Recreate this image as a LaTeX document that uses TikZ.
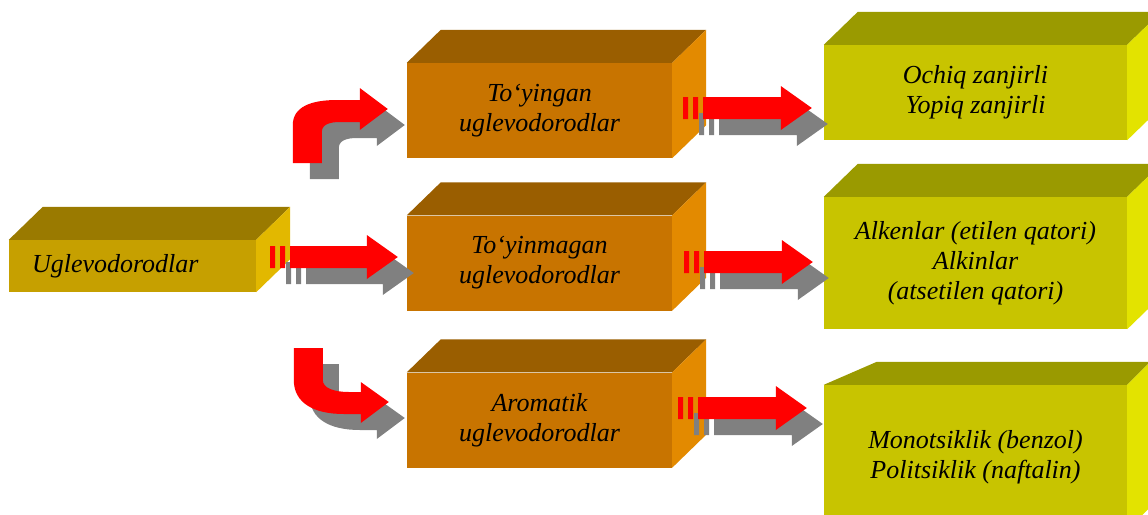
\documentclass[tikz,border=0pt]{standalone}
\usepackage{fontspec}
\setmainfont{Liberation Serif}
\usetikzlibrary{calc}
\definecolor{goldfront}{HTML}{C6A000}
\definecolor{goldtop}{HTML}{9A7A00}
\definecolor{goldside}{HTML}{E2B800}
\definecolor{orangefront}{HTML}{C87400}
\definecolor{orangetop}{HTML}{9A5E00}
\definecolor{orangeside}{HTML}{E38A00}
\definecolor{olivefront}{HTML}{C8C400}
\definecolor{olivetop}{HTML}{9A9A00}
\definecolor{oliveside}{HTML}{E3E300}
\definecolor{shadowgray}{HTML}{808080}

% top and side of a box: node, depth x, depth y, colour prefix
\newcommand{\depthfaces}[4]{%
  \fill[#4top] (#1.north west) -- ++(#2,-#3) -- ($(#1.north east)+(#2,-#3)$)
    -- (#1.north east) -- cycle;
  \fill[#4side] (#1.north east) -- ++(#2,-#3) -- ($(#1.south east)+(#2,-#3)$)
    -- (#1.south east) -- cycle;}

% striped block arrow: start, tip, colour, offset
\newcommand{\fatarrow}[4]{%
  \fill[#3] let \p1=($(#1)+(#4)$), \p2=($(#2)+(#4)$) in
    ($(\x1,\y1)+(0,-11)$) rectangle ++(5,22)
    ($(\x1,\y1)+(10,-11)$) rectangle ++(5,22)
    ($(\x1,\y1)+(20,-11)$) -- ($(\x2,\y1)+(-31,-11)$) -- ($(\x2,\y1)+(-31,-22)$)
    -- (\x2,\y1) -- ($(\x2,\y1)+(-31,22)$) -- ($(\x2,\y1)+(-31,11)$)
    -- ($(\x1,\y1)+(20,11)$) -- cycle;}

% bent arrows, drawn from the foot of the shaft
\newcommand{\bentup}[1]{%
  \fill[#1] (0,0) -- (0,-38) .. controls (0,-56) and (18,-63) .. (44,-63)
    -- (67,-63) -- (67,-75) -- (95,-54) -- (67,-33) -- (67,-41) -- (47,-41)
    .. controls (36,-41) and (29,-38) .. (29,-31) -- (29,0) -- cycle;}
\newcommand{\bentdown}[1]{%
  \fill[#1] (0,0) -- (29,0) -- (29,32) .. controls (29,40) and (40,44) .. (55,44)
    -- (67,44) -- (67,34) -- (95,54) -- (67,75) -- (67,66) -- (50,66)
    .. controls (20,66) and (0,55) .. (0,32) -- cycle;}

\begin{document}
\begin{tikzpicture}[x=1pt, y=-1pt,
    face/.style={rectangle, inner sep=0pt, align=center,
        font=\fontsize{26}{30}\selectfont\itshape},
    goldbox/.style={face, fill=goldfront, minimum width=247, minimum height=52},
    orangebox/.style={face, fill=orangefront, minimum width=265, minimum height=95},
    olivebox/.style={face, fill=olivefront, minimum width=303}
]
\useasboundingbox (0,0) rectangle (1148,514);
\clip (0,0) rectangle (1148,514);

% Left box
\node[goldbox, inner xsep=23, text width=201, align=left] (U) at (132.5,266) {Uglevodorodlar};
\depthfaces{U}{34}{33}{gold}

% Middle column
\node[orangebox] (T1) at (539.5,110.5) {To‘yingan\\uglevodorodlar};
\node[orangebox] (T2) at (539.5,263) {To‘yinmagan\\uglevodorodlar};
\node[orangebox] (T3) at (539.5,420) {Aromatik\\uglevodorodlar};
\depthfaces{T1}{34}{33}{orange}
\depthfaces{T2}{34}{33}{orange}
\depthfaces{T3}{34}{33}{orange}

% Right column
\node[olivebox, minimum height=95] (R1) at (975.5,92.5) {Ochiq zanjirli\\Yopiq zanjirli};
\node[olivebox, minimum height=132] (R2) at (975.5,263) {Alkenlar (etilen qatori)\\Alkinlar\\(atsetilen qatori)};
\node[olivebox, minimum height=145] (R3) at (975.5,457.5) {Monotsiklik (benzol)\\Politsiklik (naftalin)};
\depthfaces{R1}{34}{33}{olive}
\depthfaces{R2}{34}{33}{olive}
\fill[olivetop] (R3.north west) -- ++(53,-23) -- ($(R3.north east)+(23,-23)$) -- (R3.north east) -- cycle;
\fill[oliveside] (R3.north east) -- ++(23,-23) -- ($(R3.south east)+(23,-23)$) -- (R3.south east) -- cycle;

% Arrow ends
\coordinate (a1s) at ($(U.east)+(14,-9)$);
\coordinate (a1e) at ($(T2.west)+(-9,0)$);
\coordinate (a2s) at ($(T1.east)+(11,-2.5)$);
\coordinate (a2e) at ($(R1.west)+(-12,0)$);
\coordinate (a3s) at ($(T2.east)+(12,-1)$);
\coordinate (a3e) at ($(R2.west)+(-11,0)$);
\coordinate (a4s) at ($(T3.east)+(6,-12)$);
\coordinate (a4e) at ($(R3.west)+(-17,0)$);
\coordinate (bendup) at ($(T1.west)+(-114,52.5)$);
\coordinate (benddn) at ($(T3.west)+(-113,-72)$);

% Shadows
\fatarrow{a1s}{a1e}{shadowgray}{16,16}
\fatarrow{a2s}{a2e}{shadowgray}{16,16}
\fatarrow{a3s}{a3e}{shadowgray}{16,16}
\fatarrow{a4s}{a4e}{shadowgray}{16,16}
\begin{scope}[shift={($(bendup)+(17,16)$)}] \bentup{shadowgray} \end{scope}
\begin{scope}[shift={($(benddn)+(16,16)$)}] \bentdown{shadowgray} \end{scope}

% Red arrows
\fatarrow{a1s}{a1e}{red}{0,0}
\fatarrow{a2s}{a2e}{red}{0,0}
\fatarrow{a3s}{a3e}{red}{0,0}
\fatarrow{a4s}{a4e}{red}{0,0}
\begin{scope}[shift={(bendup)}] \bentup{red} \end{scope}
\begin{scope}[shift={(benddn)}] \bentdown{red} \end{scope}

\end{tikzpicture}
\end{document}
